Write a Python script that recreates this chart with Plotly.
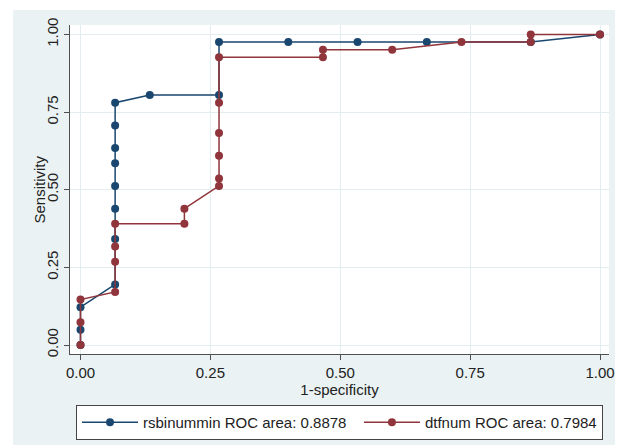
import plotly.graph_objects as go

# ---- data (15 negatives, 41 positives) ----
rsb_fpr = [0, 0, 0, 1/15, 1/15, 1/15, 1/15, 1/15, 1/15, 1/15, 1/15, 2/15, 4/15, 4/15,
           6/15, 8/15, 10/15, 13/15, 1]
rsb_tpr = [0, 2/41, 5/41, 8/41, 14/41, 18/41, 21/41, 24/41, 26/41, 29/41, 32/41, 33/41,
           33/41, 40/41, 40/41, 40/41, 40/41, 40/41, 1]

dtf_fpr = [0, 0, 0, 1/15, 1/15, 1/15, 1/15, 3/15, 3/15, 4/15, 4/15, 4/15, 4/15, 4/15, 4/15,
           7/15, 7/15, 9/15, 11/15, 13/15, 13/15, 1]
dtf_tpr = [0, 3/41, 6/41, 7/41, 11/41, 13/41, 16/41, 16/41, 18/41, 21/41, 22/41, 25/41,
           28/41, 32/41, 38/41, 38/41, 39/41, 39/41, 40/41, 40/41, 1, 1]

series_names = ["rsbinummin ROC area: 0.8878", "dtfnum ROC area: 0.7984"]
tick_vals = [0, 0.25, 0.5, 0.75, 1]
tick_text = ["0.00", "0.25", "0.50", "0.75", "1.00"]
x_title = "1-specificity"
y_title = "Sensitivity"

NAVY = "#1A476F"
MAROON = "#90353B"
BG = "#EAF2F3"
GRID = "#E3ECEE"
AXIS = "#505050"
FONT = "Liberation Sans, Arial, sans-serif"

fig = go.Figure()
fig.add_trace(go.Scatter(x=rsb_fpr, y=rsb_tpr, mode="lines+markers",
                         name=series_names[0] + "\u2002",
                         line=dict(color=NAVY, width=1.5),
                         marker=dict(color=NAVY, size=8)))
fig.add_trace(go.Scatter(x=dtf_fpr, y=dtf_tpr, mode="lines+markers", name=series_names[1],
                         line=dict(color=MAROON, width=1.5),
                         marker=dict(color=MAROON, size=8)))

# the page body adds an 8px offset, so the figure is sized to fill the rest of the window
OFF = 8
W, H = 623 - OFF, 445 - OFF
L, R, T, B = 70 - OFF, 14, 25 - OFF, 91
pw, ph = W - L - R, H - T - B


def px_x(p):
    return (p - OFF - L) / pw


def px_y(p):
    return (H - B - (p - OFF)) / ph


# white strips outside the bluish graph region (top and left edges)
fig.add_shape(type="rect", xref="paper", yref="paper", x0=px_x(-5), x1=px_x(13),
              y0=px_y(H + 20), y1=px_y(-5), fillcolor="white", line_width=0, layer="below")
fig.add_shape(type="rect", xref="paper", yref="paper", x0=px_x(-5), x1=px_x(W + 20),
              y0=px_y(10), y1=px_y(-5), fillcolor="white", line_width=0, layer="below")

fig.add_annotation(text=y_title, xref="paper", yref="paper", x=px_x(39), y=0.5,
                   xanchor="center", yanchor="middle", textangle=-90, showarrow=False,
                   font=dict(family=FONT, size=15, color="#222222"))

fig.update_layout(
    width=W, height=H,
    margin=dict(l=L, r=R, t=T, b=B, autoexpand=False),
    paper_bgcolor=BG, plot_bgcolor="white",
    font=dict(family=FONT, size=15, color="#222222"),
    showlegend=True,
    legend=dict(orientation="h", x=px_x(76), xanchor="left", y=px_y(405), yanchor="top",
                bgcolor="white", bordercolor="#444444", borderwidth=1,
                font=dict(family=FONT, size=15, color="#222222"),
                itemwidth=56, tracegroupgap=0),
)
fig.update_xaxes(range=[-0.0202, 1.0173], tickvals=tick_vals, ticktext=tick_text,
                 automargin=False,
                 showline=True, linecolor=AXIS, linewidth=1, ticks="outside", ticklen=5,
                 tickcolor=AXIS, showgrid=True, gridcolor=GRID, gridwidth=1, zeroline=False,
                 title=dict(text=x_title, font=dict(size=15), standoff=0))
fig.update_yaxes(range=[-0.029, 1.0306], tickvals=tick_vals, ticktext=tick_text,
                 tickangle=-90, automargin=False,
                 showline=True, linecolor=AXIS, linewidth=1, ticks="outside", ticklen=5,
                 tickcolor=AXIS, showgrid=True, gridcolor=GRID, gridwidth=1, zeroline=False)

fig.write_html("out.html")
